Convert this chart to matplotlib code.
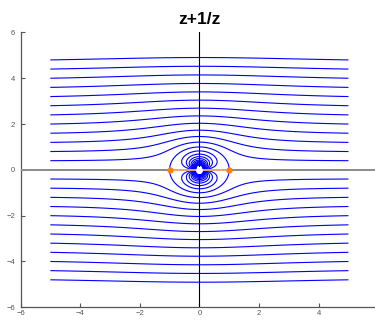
import numpy as np
import matplotlib
matplotlib.use('Agg')
import matplotlib.pyplot as plt

plt.rcParams['font.family'] = ['Liberation Sans', 'DejaVu Sans']

# starting heights of the streamlines at x = -5
y_start = [0.4, 0.8, 1.2, 1.6, 2.0, 2.4, 2.8, 3.2, 3.6, 4.0, 4.4, 4.8]
x_start = -5.0
stagnation_x = [-1.0, 1.0]
xticks = [-6, -4, -2, 0, 2, 4]
yticks = [-6, -4, -2, 0, 2, 4, 6]
title = 'z+1/z'

# stream function = Im(z + 1/z)
def psi(x, y):
    z = x + 1j * y
    return np.imag(z + 1 / z)

levels_pos = [psi(x_start, y0) for y0 in y_start]
levels = sorted([-v for v in levels_pos] + [0.0] + levels_pos)

xs = np.linspace(-5, 5, 1200)
ys = np.linspace(-5, 5, 1200)
X, Y = np.meshgrid(xs, ys)
Z = psi(X, Y)

fig = plt.figure(figsize=(3.75, 3.2), dpi=100)
ax = fig.add_axes([0.0547, 0.0397, 0.954, 0.859])

ax.contour(X, Y, Z, levels=levels, colors='#0000ff', linewidths=0.8,
           linestyles='solid')

ax.axhline(0, color='#8c8c8c', lw=1.4, zorder=3)
ax.axvline(0, color='black', lw=0.8, zorder=3)
ax.plot(stagnation_x, [0, 0], color='#f5a47a', lw=1.3, zorder=4)
ax.plot(stagnation_x, [0, 0], 'o', color='#ff7f0e', ms=3.5, zorder=5)
ax.plot([0], [0], 'o', color='white', ms=4, zorder=5)

ax.set_xlim(-6, 6)
ax.set_ylim(-6, 6)
ax.set_xticks(xticks)
ax.set_yticks(yticks)
for s in ['top', 'right']:
    ax.spines[s].set_visible(False)
for s in ['left', 'bottom']:
    ax.spines[s].set_color('#555555')
    ax.spines[s].set_linewidth(0.9)
ax.tick_params(direction='in', length=3, width=0.8, colors='#555555',
               labelsize=5.5, pad=2)
ax.tick_params(axis='y', pad=4)

ax.set_title(title, fontsize=12.5, fontweight='bold', pad=6)

plt.savefig('out.png', dpi=100)
